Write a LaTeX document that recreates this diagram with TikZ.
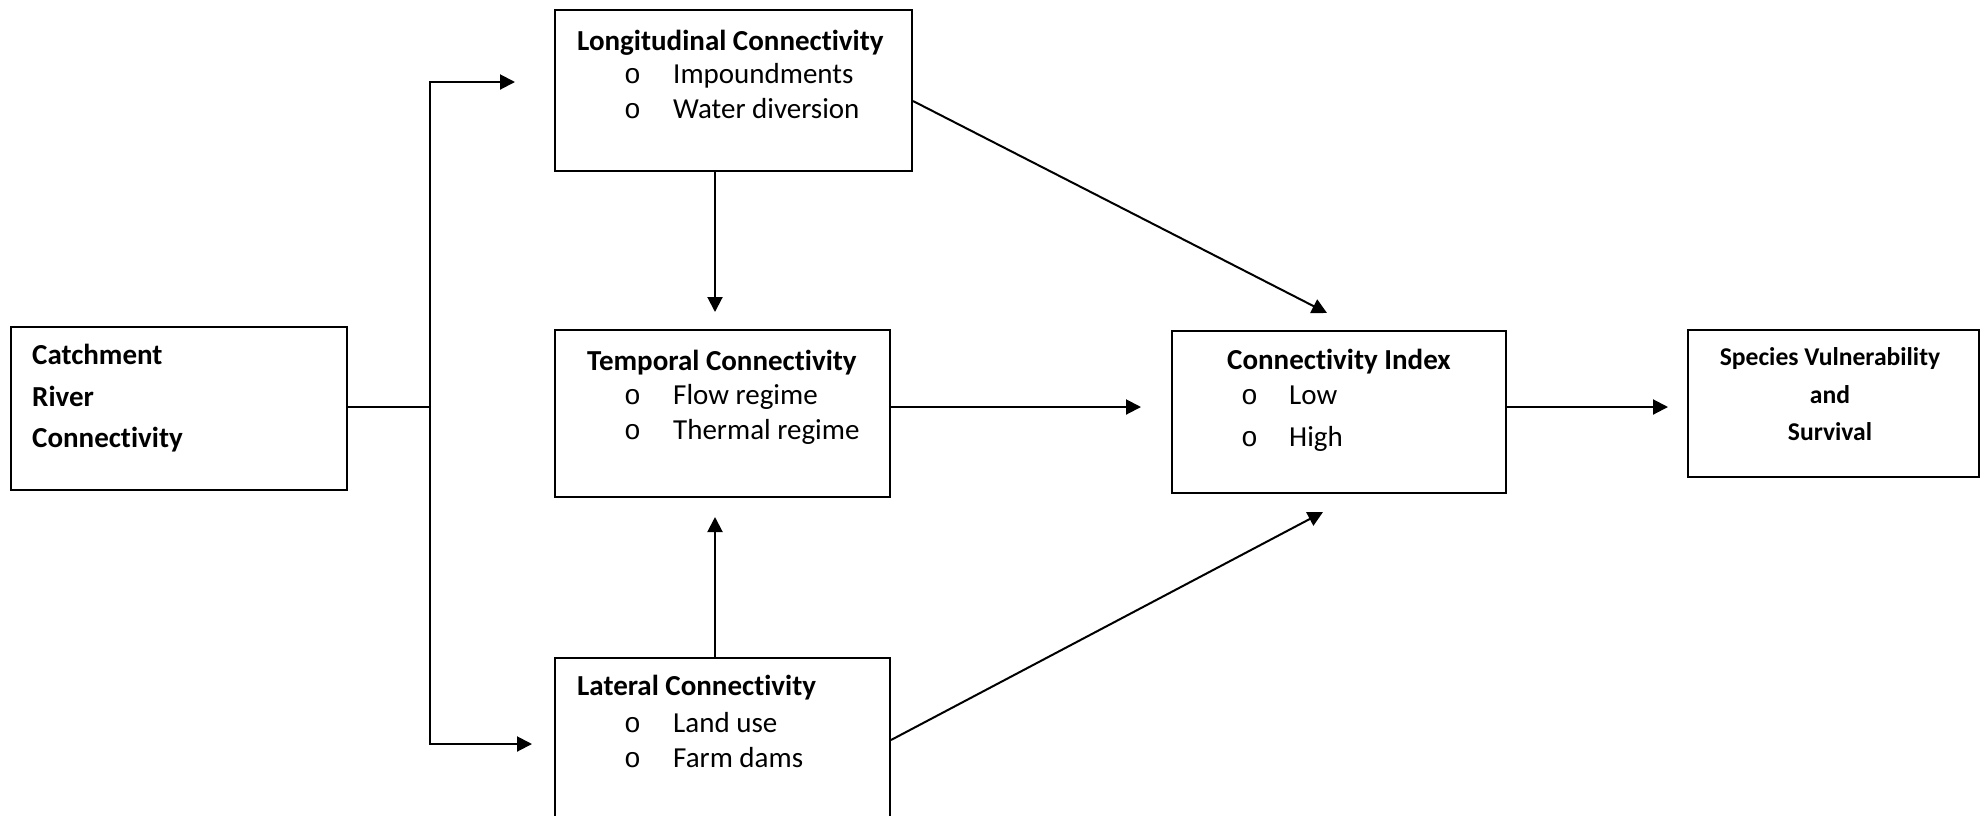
\documentclass[tikz,border=0pt]{standalone}
\usepackage{fontspec}
\setmainfont[Ligatures=NoCommon]{Carlito}
\newfontfamily\bulletfont{Liberation Mono}
\usetikzlibrary{arrows.meta,calc}
\begin{document}
\begin{tikzpicture}[x=1pt,y=-1pt,
  box/.style={draw=black, line width=2pt, rectangle, inner sep=0pt},
  conn/.style={line width=2pt, draw=black},
  arr/.style={conn, -{Triangle[length=15pt,width=15pt]}},
  txt/.style={inner sep=0pt, anchor=base west, font=\fontsize{29}{35}\selectfont},
  ttl/.style={txt, font=\fontsize{29}{35}\selectfont\bfseries},
  bul/.style={inner sep=0pt, anchor=base west, font=\fontsize{28}{35}\selectfont\bulletfont},
  sp/.style={inner sep=0pt, anchor=base, font=\fontsize{25.6}{31}\selectfont\bfseries}]
\useasboundingbox (0,0) rectangle (1981,815);
% boxes
\node[box, minimum width=336pt, minimum height=163pt] (catch) at (179,408.5) {};
\node[box, minimum width=357pt, minimum height=161pt] (lon) at (733.5,90.5) {};
\node[box, minimum width=335pt, minimum height=167pt] (tem) at (722.5,413.5) {};
\node[box, minimum width=335pt, minimum height=177pt] (lat) at (722.5,746.5) {};
\node[box, minimum width=334pt, minimum height=162pt] (idx) at (1339,412) {};
\node[box, minimum width=291pt, minimum height=147pt] (spc) at (1833.5,403.5) {};
% texts
\node[ttl] (catch1) at (32,364) {Catchment};
\node[ttl] (catch2) at (32,406) {River};
\node[ttl] (catch3) at (32,447) {Connectivity};

\node[ttl] (lon0) at (577,50) {Longitudinal Connectivity};
\node[bul] (lonb1) at (624,83) {o};
\node[txt] (lon1) at (673,83) {Impoundments};
\node[bul] (lonb2) at (624,118) {o};
\node[txt] (lon2) at (673,118) {Water diversion};

\node[ttl] (tem0) at (587,370) {Temporal Connectivity};
\node[bul] (temb1) at (624,404) {o};
\node[txt] (tem1) at (673,404) {Flow regime};
\node[bul] (temb2) at (624,439) {o};
\node[txt] (tem2) at (673,439) {Thermal regime};

\node[ttl] (lat0) at (577,695) {Lateral Connectivity};
\node[bul] (latb1) at (624,732) {o};
\node[txt] (lat1) at (673,732) {Land use};
\node[bul] (latb2) at (624,767) {o};
\node[txt] (lat2) at (673,767) {Farm dams};

\node[ttl] (idx0) at (1227,369) {Connectivity Index};
\node[bul] (idxb1) at (1241,404) {o};
\node[txt] (idx1) at (1289,404) {Low};
\node[bul] (idxb2) at (1241,446) {o};
\node[txt] (idx2) at (1289,446) {High};

\node[sp] (spc1) at (1830,365) {Species Vulnerability};
\node[sp] (spc2) at (1830,403) {and};
\node[sp] (spc3) at (1830,440) {Survival};
% coordinates
\coordinate (jn) at (430,407);
\coordinate (lonin) at (515,82);
\coordinate (latin) at (532,744);
\coordinate (tmin) at (715,312);
\coordinate (tmbot) at (715,517);
\coordinate (idxin) at (1141,407);
\coordinate (idxtop) at (1327,313);
\coordinate (idxbot) at (1323,512);
\coordinate (spcin) at (1668,407);
\coordinate (lonout) at ($(lon.north east)+(0,92)$);
\coordinate (latout) at ($(lat.north east)+(0,83)$);
% connectors
\draw[conn] (catch.east |- jn) -- (jn);
\draw[arr] (jn) |- (lonin);
\draw[arr] (jn) |- (latin);
\draw[arr] (tmin |- lon.south) -- (tmin);
\draw[arr] (tmbot |- lat.north) -- (tmbot);
\draw[arr] (tem.east |- jn) -- (idxin);
\draw[arr] (lonout) -- (idxtop);
\draw[arr] (latout) -- (idxbot);
\draw[arr] (idx.east |- jn) -- (spcin);
\end{tikzpicture}
\end{document}
